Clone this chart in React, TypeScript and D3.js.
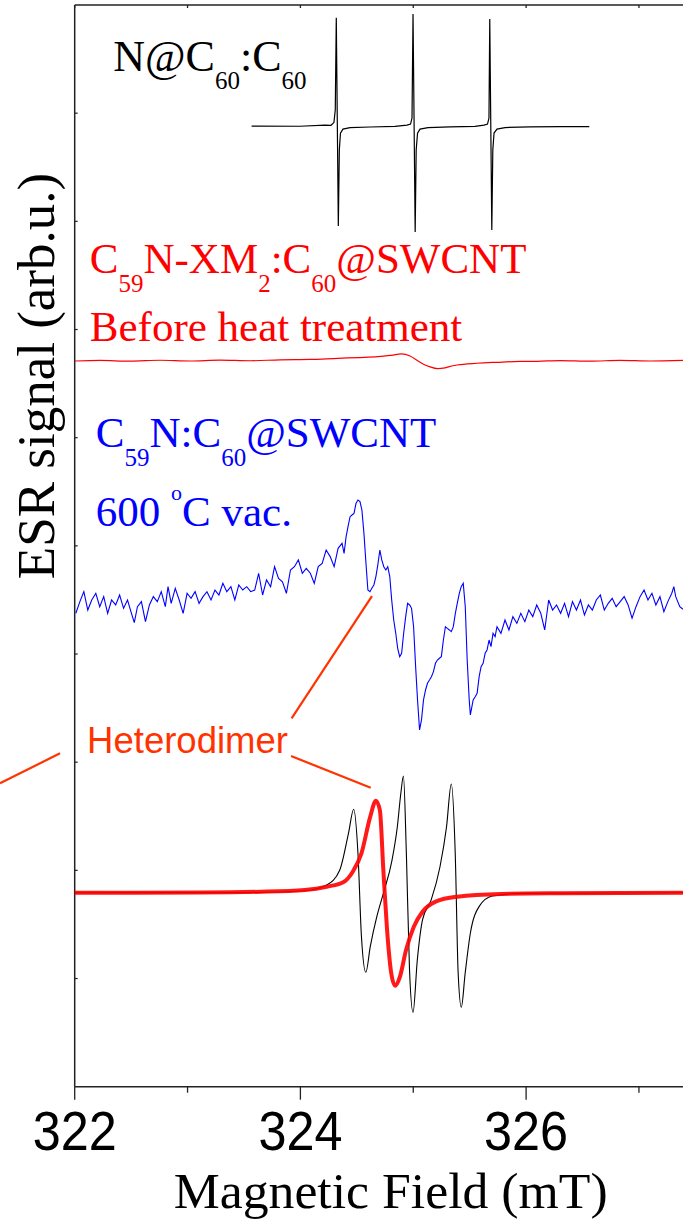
import React from 'react';
import * as d3 from 'd3';

// Field axis (mT) and stacked signal axis (arb. u.)
const FIELD_DOMAIN: [number, number] = [322, 327.6];
const SIGNAL_DOMAIN: [number, number] = [0, 10];
const MAJOR_FIELD_TICKS = [322, 324, 326];
const MINOR_FIELD_TICKS = [323, 325, 327];
const FIELD_TICK_LABELS = ['322', '324', '326'];
const SIGNAL_TICKS = [1, 2, 3, 4, 5, 6, 7, 8, 9];

// Vertical offsets of the stacked spectra
const OFFSET_NC60 = 8.881;
const OFFSET_PRECURSOR = 6.712;
const OFFSET_HEATED = 4.4375;
const OFFSET_SIM = 1.7935;

// N@C60:C60 reference triplet [field mT, signal]
const nc60Spectrum: [number, number][] = [
  [323.568, 0], [323.996, -0.002], [324.218, 0.008], [324.271, 0.007], [324.297, 0.032],
  [324.309, 0.148], [324.318, 1.002], [324.336, -0.924], [324.345, -0.222], [324.355, -0.065],
  [324.377, -0.028], [324.44, -0.015], [324.617, -0.009], [324.838, -0.003], [324.945, 0.009],
  [324.976, 0.018], [324.989, 0.074], [324.998, 1.035], [325.017, -0.98], [325.026, -0.222],
  [325.038, -0.065], [325.06, -0.028], [325.131, -0.014], [325.326, -0.007], [325.547, -0.003],
  [325.627, 0.009], [325.658, 0.018], [325.671, 0.074], [325.678, 0.99], [325.696, -0.961],
  [325.705, -0.222], [325.716, -0.065], [325.742, -0.028], [325.813, -0.014], [326.035, -0.007],
  [326.301, -0.005], [326.56, -0.005],
];

// C59N-XM2:C60@SWCNT before heat treatment
const precursorSpectrum: [number, number][] = [
  [322.003, -0.003], [322.224, 0.002], [322.49, -0.005], [322.756, 0.004], [323.022, -0.003],
  [323.288, 0.005], [323.554, -0.001], [323.819, 0.008], [324.085, 0.011], [324.333, 0.022],
  [324.528, 0.029], [324.688, 0.037], [324.794, 0.048], [324.898, 0.062], [324.971, 0.043],
  [325.039, 0], [325.095, -0.035], [325.144, -0.055], [325.214, -0.074], [325.281, -0.067],
  [325.32, -0.055], [325.39, -0.04], [325.565, -0.024], [325.742, -0.015], [325.946, -0.007],
  [326.097, -0.006], [326.301, 0.001], [326.567, -0.005], [326.833, 0.003], [327.099, -0.003],
  [327.39, 0.002],
];

// C59N:C60@SWCNT after 600 °C in vacuum
const heatedSpectrum: [number, number][] = [
  [322.010, -0.061], [322.046, 0.047], [322.081, 0.139], [322.116, -0.031], [322.151, 0.062],
  [322.187, 0.124], [322.222, 0.0], [322.257, 0.093], [322.292, -0.061], [322.327, 0.062],
  [322.363, 0.016], [322.398, 0.108], [322.433, -0.015], [322.468, 0.062], [322.503, -0.061],
  [322.528, -0.148], [322.556, 0.0], [322.591, 0.047], [322.627, -0.138], [322.662, 0.016],
  [322.697, 0.093], [322.732, 0.047], [322.767, 0.139], [322.803, 0.0], [322.827, 0.185],
  [322.855, 0.031], [322.891, 0.17], [322.926, 0.062], [322.961, -0.061], [322.996, 0.124],
  [323.031, 0.077], [323.067, 0.139], [323.102, 0.031], [323.137, 0.093], [323.172, 0.139],
  [323.208, 0.062], [323.243, 0.154], [323.278, 0.108], [323.313, 0.216], [323.348, 0.139],
  [323.384, 0.185], [323.419, 0.062], [323.454, 0.201], [323.489, 0.154], [323.524, 0.185],
  [323.56, 0.139], [323.595, 0.154], [323.63, 0.309], [323.665, 0.108], [323.7, 0.247],
  [323.736, 0.185], [323.771, 0.37], [323.806, 0.262], [323.841, 0.231], [323.876, 0.124],
  [323.912, 0.339], [323.947, 0.37], [323.982, 0.432], [324.017, 0.309], [324.052, 0.355],
  [324.088, 0.309], [324.123, 0.216], [324.158, 0.37], [324.193, 0.401], [324.228, 0.524],
  [324.264, 0.463], [324.299, 0.37], [324.334, 0.54], [324.369, 0.586], [324.387, 0.493],
  [324.405, 0.648], [324.422, 0.74], [324.44, 0.832], [324.457, 0.848], [324.475, 0.863],
  [324.493, 0.956], [324.51, 0.986], [324.528, 0.971], [324.545, 0.894], [324.563, 0.678],
  [324.581, 0.401], [324.598, 0.154], [324.616, 0.139], [324.633, 0.17], [324.651, 0.201],
  [324.669, 0.278], [324.686, 0.386], [324.704, 0.524], [324.721, 0.432], [324.739, 0.37],
  [324.757, 0.339], [324.774, 0.37], [324.792, 0.278], [324.809, 0.062], [324.827, -0.123],
  [324.845, -0.246], [324.862, -0.385], [324.88, -0.462], [324.897, -0.431], [324.915, -0.246],
  [324.933, -0.092], [324.95, 0.031], [324.968, 0.016], [324.985, -0.015], [325.003, -0.185],
  [325.021, -0.554], [325.038, -0.862], [325.056, -1.14], [325.073, -1.047], [325.091, -0.862],
  [325.109, -0.77], [325.126, -0.708], [325.144, -0.678], [325.161, -0.647], [325.179, -0.6],
  [325.197, -0.523], [325.214, -0.493], [325.232, -0.477], [325.249, -0.462], [325.267, -0.308],
  [325.285, -0.185], [325.302, -0.2], [325.32, -0.215], [325.337, -0.231], [325.355, -0.185],
  [325.373, -0.061], [325.39, 0.031], [325.408, 0.124], [325.425, 0.185], [325.443, 0.216],
  [325.461, 0.0], [325.478, -0.493], [325.496, -0.862], [325.506, -1.001], [325.531, -0.862],
  [325.549, -0.832], [325.566, -0.801], [325.584, -0.647], [325.601, -0.554], [325.619, -0.523],
  [325.637, -0.431], [325.654, -0.4], [325.672, -0.308], [325.689, -0.369], [325.707, -0.246],
  [325.725, -0.277], [325.742, -0.185], [325.777, -0.246], [325.813, -0.123], [325.848, -0.215],
  [325.883, -0.092], [325.918, -0.154], [325.953, -0.061], [325.989, -0.138], [326.024, -0.031],
  [326.059, -0.092], [326.094, 0.016], [326.13, -0.061], [326.165, -0.215], [326.2, 0.062],
  [326.235, -0.031], [326.27, 0.016], [326.306, -0.061], [326.341, 0.031], [326.376, -0.092],
  [326.411, 0.047], [326.446, -0.031], [326.482, 0.062], [326.517, -0.077], [326.552, 0.016],
  [326.587, -0.031], [326.622, 0.062], [326.658, 0.108], [326.693, -0.031], [326.728, 0.031],
  [326.763, 0.077], [326.798, 0.0], [326.834, 0.047], [326.869, 0.093], [326.904, 0.016],
  [326.939, -0.107], [326.974, 0.0], [327.01, 0.093], [327.045, 0.154], [327.08, 0.062],
  [327.115, 0.124], [327.15, 0.016], [327.186, 0.093], [327.221, -0.046], [327.256, 0.047],
  [327.291, 0.124], [327.309, 0.185], [327.326, 0.093], [327.362, 0.0], [327.39, -0.024],
];

// Simulated N@C60-like triplet
const simTriplet: [number, number][] = [
  [322.0, 0], [323.553, 0.001], [324.04, 0.018], [324.233, 0.071], [324.349, 0.21],
  [324.426, 0.549], [324.472, 0.771], [324.51, 0.364], [324.541, -0.407], [324.58, -0.736],
  [324.619, -0.499], [324.677, -0.222], [324.735, -0.006], [324.812, 0.302], [324.859, 0.61],
  [324.89, 0.919], [324.913, 1.079], [324.939, 0.364], [324.967, -0.715], [324.998, -1.106],
  [325.036, -0.622], [325.082, -0.252], [325.159, -0.067], [325.237, 0.24], [325.295, 0.61],
  [325.337, 1.005], [325.372, 0.364], [325.398, -0.745], [325.426, -1.059], [325.46, -0.745],
  [325.506, -0.375], [325.583, -0.129], [325.7, -0.031], [325.97, -0.006], [327.39, 0],
];

// Simulated heterodimer line
const simHeterodimer: [number, number][] = [
  [322.0, 0], [323.11, 0.002], [323.654, 0.009], [324.04, 0.025], [324.233, 0.055],
  [324.387, 0.102], [324.464, 0.194], [324.541, 0.364], [324.619, 0.703], [324.669, 0.851],
  [324.704, 0.765], [324.735, 0.21], [324.766, -0.314], [324.805, -0.745], [324.839, -0.86],
  [324.882, -0.777], [324.936, -0.53], [325.005, -0.314], [325.082, -0.176], [325.198, -0.083],
  [325.391, -0.037], [325.778, -0.012], [326.3, -0.005], [327.39, 0],
];

// Leader lines from the "Heterodimer" label [field, signal]
const leaderLines: [number, number][][] = [
  [[323.922, 3.406], [324.634, 4.536]],
  [[323.917, 3.057], [324.623, 2.764]],
  [[321.87, 3.082], [321.338, 2.805]],
];

const W = 683;
const H = 1222;
const PLOT_LEFT = 74.7;
const PLOT_TOP = 5;
const PLOT_BOTTOM = 1086.7;
const MT_PX = 112.85;

const SERIF = "'Liberation Serif', 'Times New Roman', serif";
const SANS = "'Liberation Sans', Arial, sans-serif";
const AXIS = '#222';
const HETERO = '#ff3300';

export default function App() {
  const x = d3
    .scaleLinear()
    .domain(FIELD_DOMAIN)
    .range([PLOT_LEFT, PLOT_LEFT + (FIELD_DOMAIN[1] - FIELD_DOMAIN[0]) * MT_PX]);
  const y = d3.scaleLinear().domain(SIGNAL_DOMAIN).range([PLOT_BOTTOM, PLOT_TOP]);

  const lineFor = (offset: number, curve: d3.CurveFactory = d3.curveLinear) =>
    d3
      .line<[number, number]>()
      .x((d) => x(d[0]))
      .y((d) => y(d[1] + offset))
      .curve(curve);

  const x0 = x(FIELD_DOMAIN[0]);
  const x1 = x(FIELD_DOMAIN[1]);
  const subDy = 18;

  return (
    <svg
      width={W}
      height={H}
      style={{ position: 'absolute', left: 0, top: 0, background: '#fff' }}
    >
      <rect x={0} y={0} width={W} height={H} fill="#fff" />

      {/* frame */}
      <line x1={x0} x2={x0} y1={y(10)} y2={y(0)} stroke={AXIS} strokeWidth={1.5} />
      <line x1={x0} x2={x1} y1={y(0)} y2={y(0)} stroke={AXIS} strokeWidth={1.5} />
      <line x1={x0} x2={x1} y1={y(10)} y2={y(10)} stroke={AXIS} strokeWidth={1.5} />
      <line x1={x1} x2={x1} y1={y(10)} y2={y(0)} stroke={AXIS} strokeWidth={1.5} />

      {/* bottom ticks */}
      {MAJOR_FIELD_TICKS.map((t) => (
        <line key={'M' + t} x1={x(t)} x2={x(t)} y1={y(0)} y2={y(0) + 13} stroke={AXIS} strokeWidth={1.3} />
      ))}
      {MINOR_FIELD_TICKS.map((t) => (
        <line key={'m' + t} x1={x(t)} x2={x(t)} y1={y(0)} y2={y(0) + 6} stroke={AXIS} strokeWidth={1.3} />
      ))}
      {/* top ticks */}
      {[...MAJOR_FIELD_TICKS, ...MINOR_FIELD_TICKS].map((t) => (
        <line key={'t' + t} x1={x(t)} x2={x(t)} y1={y(10)} y2={y(10) + 3} stroke={AXIS} strokeWidth={1.3} />
      ))}
      {/* left ticks */}
      {SIGNAL_TICKS.map((t) => (
        <line key={'l' + t} x1={x0} x2={x0 + 3} y1={y(t)} y2={y(t)} stroke={AXIS} strokeWidth={1.2} />
      ))}

      {/* tick labels */}
      {MAJOR_FIELD_TICKS.map((t, i) => (
        <text
          key={'lab' + t}
          x={x(t)}
          y={1150}
          textAnchor="middle"
          fontFamily={SANS}
          fontSize={55}
          textLength={84}
          lengthAdjust="spacingAndGlyphs"
          fill="#000"
        >
          {FIELD_TICK_LABELS[i]}
        </text>
      ))}

      {/* axis titles */}
      <text
        x={(x0 + x1) / 2}
        y={1208}
        textAnchor="middle"
        fontFamily={SERIF}
        fontSize={50}
        textLength={434}
        lengthAdjust="spacingAndGlyphs"
        fill="#000"
      >
        Magnetic Field (mT)
      </text>
      <text
        transform="translate(54,376) rotate(-90)"
        textAnchor="middle"
        fontFamily={SERIF}
        fontSize={53}
        fill="#000"
      >
        ESR signal (arb.u.)
      </text>

      {/* spectra */}
      <path d={lineFor(OFFSET_NC60)(nc60Spectrum) ?? ''} fill="none" stroke="#000" strokeWidth={1.2} />
      <path d={lineFor(OFFSET_PRECURSOR, d3.curveMonotoneX)(precursorSpectrum) ?? ''} fill="none" stroke="#ff0000" strokeWidth={1.2} />
      <path d={lineFor(OFFSET_HEATED)(heatedSpectrum) ?? ''} fill="none" stroke="#0000ff" strokeWidth={1.1} />
      <path d={lineFor(OFFSET_SIM, d3.curveMonotoneX)(simTriplet) ?? ''} fill="none" stroke="#000" strokeWidth={1.1} />
      <path
        d={lineFor(OFFSET_SIM, d3.curveMonotoneX)(simHeterodimer) ?? ''}
        fill="none"
        stroke="#ff0000"
        strokeWidth={4}
        strokeOpacity={0.9}
        strokeLinejoin="round"
      />

      {/* labels */}
      <text x={x(322.342)} y={y(9.39)} fontFamily={SERIF} fontSize={44} fill="#000">
        N@C<tspan fontSize={25} dy={subDy}>60</tspan>
        <tspan dy={-subDy}>:C</tspan>
        <tspan fontSize={25} dy={subDy}>60</tspan>
      </text>

      <text x={x(322.134)} y={y(7.525)} fontFamily={SERIF} fontSize={43} fill="#ff0000">
        C<tspan fontSize={25} dy={19}>59</tspan>
        <tspan dy={-19}>N-XM</tspan>
        <tspan fontSize={25} dy={19}>2</tspan>
        <tspan dy={-19}>:C</tspan>
        <tspan fontSize={25} dy={19}>60</tspan>
        <tspan dy={-19}>@SWCNT</tspan>
      </text>
      <text x={x(322.134)} y={y(6.897)} fontFamily={SERIF} fontSize={43} fill="#ff0000">
        Before heat treatment
      </text>

      <text x={x(322.187)} y={y(5.917)} fontFamily={SERIF} fontSize={43} fill="#0000ff">
        C<tspan fontSize={25} dy={19}>59</tspan>
        <tspan dy={-19}>N:C</tspan>
        <tspan fontSize={25} dy={19}>60</tspan>
        <tspan dy={-19}>@SWCNT</tspan>
      </text>
      <text x={x(322.187)} y={y(5.184)} fontFamily={SERIF} fontSize={43} fill="#0000ff">
        600 <tspan fontSize={22} dy={-26}>o</tspan>
        <tspan dy={26}>C vac.</tspan>
      </text>

      <text x={x(322.11)} y={y(3.082)} fontFamily={SANS} fontSize={36.5} fill={HETERO}>
        Heterodimer
      </text>
      {leaderLines.map((seg, i) => (
        <line
          key={'lead' + i}
          x1={x(seg[0][0])}
          y1={y(seg[0][1])}
          x2={x(seg[1][0])}
          y2={y(seg[1][1])}
          stroke={HETERO}
          strokeWidth={2.2}
        />
      ))}
    </svg>
  );
}
